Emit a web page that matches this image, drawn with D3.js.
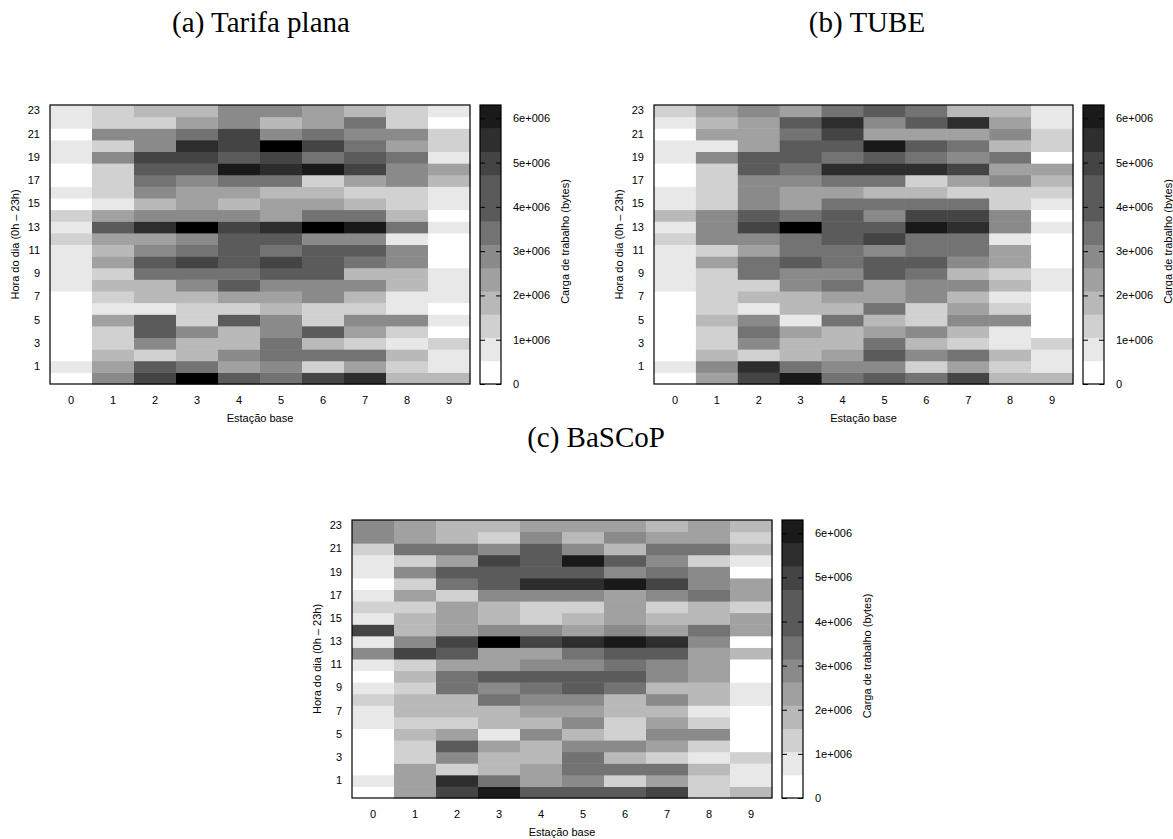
<!DOCTYPE html>
<meta charset="utf-8">
<style>
body {
  margin: 0;
  background: #fff;
}
svg text {
  font-family: "Liberation Sans", Arial, Helvetica, sans-serif;
  font-size: 11px;
  fill: #000;
}
.title {
  font-family: "Liberation Serif", "Times New Roman", serif;
  font-size: 29px;
}
</style>
<body>
<script src="https://d3js.org/d3.v7.min.js"></script>
<script>

var width = 1173,
    height = 839;

// eixo x e y
var stations = [0, 1, 2, 3, 4, 5, 6, 7, 8, 9];
var hours = d3.range(24);
var hourTicks = [1, 3, 5, 7, 9, 11, 13, 15, 17, 19, 21, 23];
var cbTicks = [0, 1, 2, 3, 4, 5, 6];

// carga (milhões de bytes), uma linha por hora 0h..23h, colunas = estação 0..9
var tarifaPlana = [
  [0.2,2.9,4.5,6.1,3.9,3.4,4.5,5.0,1.8,1.8],
  [0.8,2.4,3.9,3.4,2.4,2.9,1.3,2.4,1.3,0.8],
  [0.2,1.8,1.3,1.8,2.9,3.4,3.4,3.4,1.8,0.8],
  [0.2,1.3,2.9,1.8,1.8,3.4,1.8,1.3,0.8,1.3],
  [0.2,1.3,3.9,2.9,1.8,2.9,3.9,2.4,1.3,0.2],
  [0.2,2.4,3.9,1.3,3.9,2.9,1.3,2.9,2.9,0.8],
  [0.2,0.8,0.8,1.3,1.3,1.8,1.3,1.3,0.8,0.2],
  [0.2,1.3,1.8,1.8,2.4,2.4,2.9,1.8,0.8,0.8],
  [0.8,1.8,1.8,2.9,3.9,2.9,2.9,2.9,1.8,0.8],
  [0.8,1.3,3.4,3.4,3.4,3.9,3.9,1.8,1.8,0.8],
  [0.8,2.4,3.9,4.5,3.9,4.5,3.9,3.4,2.9,0.2],
  [0.8,1.8,2.9,3.4,3.9,3.4,3.9,3.9,2.9,0.2],
  [1.3,2.4,2.4,2.9,3.9,3.9,2.9,2.9,0.8,0.2],
  [0.8,3.9,5.0,6.1,4.5,5.0,6.1,5.5,3.4,0.8],
  [1.3,2.4,2.9,2.9,2.9,2.4,3.4,3.4,1.8,0.2],
  [0.2,0.8,1.8,2.4,1.8,2.4,2.4,1.8,1.3,0.8],
  [0.8,1.3,2.9,2.4,2.4,1.8,1.8,1.3,1.3,0.8],
  [0.2,1.3,3.4,2.9,3.4,3.4,1.3,2.4,2.9,1.8],
  [0.2,1.3,3.9,3.9,5.5,5.0,5.5,4.5,2.9,2.4],
  [0.8,2.9,4.5,4.5,3.9,4.5,3.4,3.9,3.4,0.8],
  [0.8,1.3,2.9,5.0,4.5,6.1,4.5,3.4,2.4,1.3],
  [0.2,2.9,2.9,3.4,4.5,2.9,3.4,2.9,2.9,1.3],
  [0.8,1.3,1.3,2.4,2.9,1.8,2.4,3.4,1.3,0.2],
  [0.8,1.3,1.8,1.8,2.9,2.9,2.4,1.8,1.3,0.8]
];

var tube = [
  [0.2,2.4,4.5,5.5,3.4,3.9,3.4,4.5,1.8,1.8],
  [0.8,2.9,5.0,3.4,2.9,2.9,1.3,2.4,1.3,0.8],
  [0.2,1.8,1.3,1.8,2.4,3.9,2.9,3.4,1.8,0.8],
  [0.2,1.3,2.9,1.8,1.8,3.4,1.8,1.3,0.8,1.3],
  [0.2,1.3,3.4,2.4,1.8,2.4,2.9,1.8,0.8,0.2],
  [0.2,1.8,2.9,0.8,3.4,1.8,1.3,2.9,2.9,0.2],
  [0.2,1.3,0.8,1.8,1.8,3.4,1.3,2.4,1.3,0.2],
  [0.2,1.3,1.8,1.8,2.4,2.4,2.9,1.8,0.8,0.2],
  [0.8,1.3,1.3,2.9,3.4,2.4,2.9,2.9,1.8,0.8],
  [0.8,1.3,3.4,2.9,2.9,3.9,3.4,1.8,1.3,0.8],
  [0.8,2.4,3.4,3.9,3.4,3.9,3.9,2.9,2.4,0.2],
  [0.8,1.3,2.4,3.4,3.4,2.9,3.4,3.4,2.4,0.2],
  [1.3,2.9,2.9,3.4,3.9,4.5,3.4,3.4,0.8,0.2],
  [0.8,2.9,4.5,6.1,3.9,3.9,5.5,5.0,2.9,0.8],
  [1.8,2.9,3.9,3.4,3.9,2.9,4.5,4.5,2.9,0.2],
  [0.8,1.3,2.9,2.4,3.4,3.4,3.4,3.4,1.3,0.8],
  [0.8,1.3,2.9,2.4,2.4,1.8,1.8,1.3,1.3,1.3],
  [0.2,1.3,2.9,2.9,3.4,3.4,1.3,2.4,2.9,1.8],
  [0.2,1.3,3.9,3.4,5.0,5.0,5.0,4.5,2.4,2.4],
  [0.8,2.9,3.9,3.9,3.4,3.9,3.4,2.9,3.4,0.2],
  [0.8,0.8,2.4,3.9,3.9,5.5,3.9,3.4,1.8,1.3],
  [0.2,2.4,2.4,3.4,4.5,2.4,2.4,2.4,2.9,1.3],
  [0.8,1.8,2.4,3.9,5.0,2.9,3.9,5.0,2.4,0.8],
  [1.3,2.4,2.9,2.4,3.4,3.9,3.4,1.8,1.8,0.8]
];

var bascop = [
  [0.2,2.4,4.5,5.5,3.9,3.9,3.9,4.5,1.3,1.8],
  [0.8,2.4,5.0,3.4,2.4,2.9,1.3,2.4,1.3,0.8],
  [0.2,2.4,1.3,1.8,2.4,3.4,3.4,3.4,1.8,0.8],
  [0.2,1.3,2.9,1.8,1.8,3.4,1.8,1.3,0.8,1.3],
  [0.2,1.3,3.9,2.4,1.8,2.9,2.9,2.4,1.3,0.2],
  [0.2,1.8,2.4,0.8,2.9,1.8,1.3,2.9,2.9,0.2],
  [0.8,1.3,1.3,1.8,1.8,2.9,1.3,2.4,1.3,0.2],
  [0.8,1.8,1.8,1.8,2.4,2.4,1.8,1.8,0.8,0.2],
  [1.3,1.8,1.8,3.4,2.9,2.9,1.8,2.9,1.8,0.8],
  [0.8,1.3,3.4,2.9,3.4,3.9,3.4,1.8,1.8,0.8],
  [0.2,1.8,3.4,3.9,3.9,3.9,3.9,2.9,2.4,0.2],
  [0.8,1.3,2.4,2.4,2.9,2.9,3.4,2.9,2.4,0.2],
  [2.9,4.5,3.9,2.4,2.4,3.4,3.9,3.9,2.4,1.8],
  [0.8,2.9,4.5,6.1,4.5,5.0,5.5,5.0,2.9,0.2],
  [4.5,1.8,2.4,2.9,2.9,2.4,2.9,2.4,3.4,2.4],
  [0.8,1.8,2.4,1.8,1.3,1.8,2.4,1.8,1.8,2.4],
  [1.3,1.3,2.4,1.8,1.3,1.3,2.4,1.3,1.8,1.3],
  [0.8,2.4,1.3,2.9,2.9,2.9,2.4,2.9,3.4,2.4],
  [0.2,1.3,3.4,3.9,5.0,5.0,5.5,4.5,2.9,2.4],
  [0.8,2.9,3.9,3.9,3.9,3.9,2.9,3.4,2.9,0.2],
  [0.8,1.3,2.4,4.5,3.9,5.5,3.9,2.9,1.3,0.8],
  [1.3,3.4,3.4,2.9,3.9,2.9,1.8,3.4,3.4,1.8],
  [2.9,2.4,1.8,1.3,2.9,1.8,2.9,2.4,2.4,1.3],
  [2.9,2.4,1.8,1.8,2.4,2.4,2.4,1.8,2.4,1.8]
];

var cbMax = 6.3;

// paleta cinza com 12 níveis (branco -> preto)
var cellColors = ["#ffffff", "#e8e8e8", "#d1d1d1", "#b9b9b9", "#a1a1a1", "#8a8a8a",
                  "#737373", "#5b5b5b", "#444444", "#2d2d2d", "#191919", "#000000"];
// as faixas da barra de cores, de baixo para cima
var barColors = ["#ffffff", "#e8e8e8", "#d0d0d0", "#b8b8b8", "#a0a0a0", "#8a8a8a",
                 "#737373", "#5a5a5a", "#5a5a5a", "#444444", "#2e2e2e", "#1a1a1a"];

var panels = [
  {title: "(a) Tarifa plana", data: tarifaPlana, x0: 50, x1: 470, y0: 105, y1: 384, tx: 261, ty: 32},
  {title: "(b) TUBE", data: tube, x0: 654, x1: 1073, y0: 105, y1: 384, tx: 867, ty: 32},
  {title: "(c) BaSCoP", data: bascop, x0: 352, x1: 772, y0: 520, y1: 798, tx: 596, ty: 447}
];

var color = d3.scaleQuantize()
    .domain([0, cbMax])
    .range(cellColors);

var svg = d3.select("body").append("svg")
    .attr("width", width)
    .attr("height", height);

panels.forEach(drawPanel);

function drawPanel(p) {
  var g = svg.append("g");

  var x = d3.scaleBand().domain(stations).range([p.x0, p.x1]);
  var y = d3.scaleBand().domain(hours).range([p.y1, p.y0]);

  g.append("text")
      .attr("class", "title")
      .attr("x", p.tx)
      .attr("y", p.ty)
      .attr("text-anchor", "middle")
      .text(p.title);

  var cells = [];
  p.data.forEach(function(row, h) {
    row.forEach(function(v, s) { cells.push({h: h, s: s, v: v}); });
  });

  g.selectAll("rect.cell")
      .data(cells)
    .enter().append("rect")
      .attr("class", "cell")
      .attr("x", function(d) { return x(d.s); })
      .attr("y", function(d) { return y(d.h); })
      .attr("width", x.bandwidth() + 0.5)
      .attr("height", y.bandwidth() + 0.5)
      .attr("fill", function(d) { return color(d.v); });

  g.append("rect")
      .attr("x", p.x0)
      .attr("y", p.y0)
      .attr("width", p.x1 - p.x0)
      .attr("height", p.y1 - p.y0)
      .attr("fill", "none")
      .attr("stroke", "#000")
      .attr("stroke-width", 1.2);

  var xAxis = g.append("g")
      .attr("transform", "translate(0," + p.y1 + ")")
      .call(d3.axisBottom(x).tickSize(0).tickPadding(12));
  var yAxis = g.append("g")
      .attr("transform", "translate(" + p.x0 + ",0)")
      .call(d3.axisLeft(y).tickValues(hourTicks).tickSize(0).tickPadding(10));
  xAxis.select(".domain").remove();
  yAxis.select(".domain").remove();

  g.append("text")
      .attr("x", (p.x0 + p.x1) / 2)
      .attr("y", p.y1 + 38)
      .attr("text-anchor", "middle")
      .text("Estação base");

  g.append("text")
      .attr("transform", "translate(" + (p.x0 - 31) + "," + (p.y0 + p.y1) / 2 + ")rotate(-90)")
      .attr("text-anchor", "middle")
      .text("Hora do dia (0h – 23h)");

  // barra de cores
  var bx = p.x1 + 10,
      bw = 21;
  var cb = d3.scaleLinear().domain([0, cbMax]).range([p.y1, p.y0]);
  var step = cbMax / barColors.length;

  g.selectAll("rect.band")
      .data(barColors)
    .enter().append("rect")
      .attr("class", "band")
      .attr("x", bx)
      .attr("y", function(d, i) { return cb((i + 1) * step); })
      .attr("width", bw)
      .attr("height", function(d, i) { return cb(i * step) - cb((i + 1) * step) + 0.5; })
      .attr("fill", function(d) { return d; });

  g.append("rect")
      .attr("x", bx)
      .attr("y", p.y0)
      .attr("width", bw)
      .attr("height", p.y1 - p.y0)
      .attr("fill", "none")
      .attr("stroke", "#000")
      .attr("stroke-width", 1.2);

  var fmt = function(d) { return d === 0 ? "0" : d + "e+006"; };

  var right = g.append("g")
      .attr("transform", "translate(" + (bx + bw) + ",0)")
      .call(d3.axisRight(cb).tickValues(cbTicks).tickFormat(fmt).tickSizeInner(-5).tickSizeOuter(0).tickPadding(12));
  var left = g.append("g")
      .attr("transform", "translate(" + bx + ",0)")
      .call(d3.axisLeft(cb).tickValues(cbTicks).tickFormat("").tickSizeInner(-5).tickSizeOuter(0));
  right.select(".domain").remove();
  left.select(".domain").remove();
  g.selectAll(".tick line").attr("stroke", "#000");
  g.selectAll(".tick text").attr("font-family", null).attr("font-size", null);

  g.append("text")
      .attr("transform", "translate(" + (bx + bw + 68) + "," + ((p.y0 + p.y1) / 2 - 3) + ")rotate(-90)")
      .attr("text-anchor", "middle")
      .text("Carga de trabalho (bytes)");
}
</script>
</body>
